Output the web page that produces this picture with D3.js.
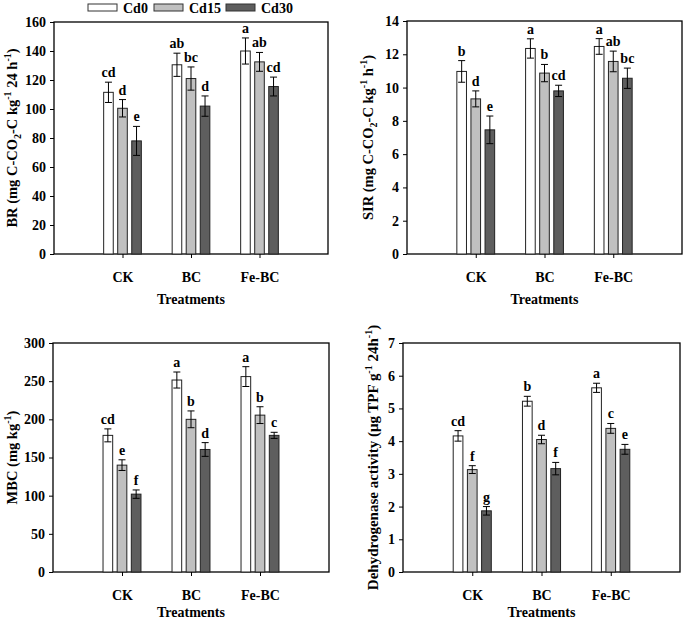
<!DOCTYPE html>
<html>
<head>
<meta charset="utf-8">
<script src="https://cdn.jsdelivr.net/npm/d3@7"></script>
<style>
  body { margin: 0; background: #fff; }
  svg { display: block; font-family: "Liberation Serif", "Times New Roman", serif; font-weight: bold; }
</style>
</head>
<body>
<svg id="chart" width="685" height="621"></svg>
<script>
// ===============================
// Data (rows = treatments, cols = Cd0, Cd15, Cd30)
// ===============================
const treatments = ["CK", "BC", "Fe-BC"];
const levels = ["Cd0", "Cd15", "Cd30"];
const levelColors = ["#ffffff", "#c0c0c0", "#5e5e5e"];

const brMean = [[111.5, 100.5, 78], [130.5, 121, 102], [140, 132.5, 115.5]];
const brErr = [[7, 6, 10], [8, 8, 7], [9, 6.5, 6.5]];
const brLetters = [["cd", "d", "e"], ["ab", "bc", "d"], ["a", "ab", "cd"]];

const sirMean = [[10.97, 9.32, 7.46], [12.35, 10.87, 9.8], [12.47, 11.57, 10.56]];
const sirErr = [[0.65, 0.48, 0.83], [0.58, 0.52, 0.34], [0.47, 0.62, 0.61]];
const sirLetters = [["b", "d", "e"], ["a", "b", "cd"], ["a", "ab", "bc"]];

const mbcMean = [[179, 140, 102], [251.5, 200, 160.5], [256, 205.5, 179]];
const mbcErr = [[8.5, 7, 5.5], [10.5, 11, 9], [13, 11, 4]];
const mbcLetters = [["cd", "e", "f"], ["a", "b", "d"], ["a", "b", "c"]];

const dhaMean = [[4.16, 3.13, 1.87], [5.22, 4.05, 3.16], [5.63, 4.39, 3.75]];
const dhaErr = [[0.16, 0.12, 0.13], [0.15, 0.13, 0.19], [0.14, 0.15, 0.15]];
const dhaLetters = [["cd", "f", "g"], ["b", "d", "f"], ["a", "c", "e"]];

const svg = d3.select("#chart");
const serif = "'Liberation Serif', 'Times New Roman', serif";

// ===============================
// Legend
// ===============================
const legend = svg.append("g");
const legendX = [88, 154, 226];
levels.forEach((lv, i) => {
    legend.append("rect")
        .attr("x", legendX[i]).attr("y", 4)
        .attr("width", 29).attr("height", 7)
        .attr("fill", levelColors[i])
        .attr("stroke", "#333").attr("stroke-width", 1);
    legend.append("text")
        .attr("x", legendX[i] + 35).attr("y", 13)
        .attr("font-size", 14)
        .text(lv);
});

// ===============================
// Panel drawing
// ===============================
function drawPanel(p) {
    const g = svg.append("g");

    const x = d3.scaleLinear().domain([0, 4]).range([p.left, p.right]);
    const y = d3.scaleLinear().domain([0, p.ymax]).range([p.bottom, p.top]);
    const unit = x(1) - x(0);
    const barW = unit * 0.14;
    const offset = unit * 0.205;

    // frame
    g.append("rect")
        .attr("x", p.left).attr("y", p.top)
        .attr("width", p.right - p.left).attr("height", p.bottom - p.top)
        .attr("fill", "none").attr("stroke", "#000").attr("stroke-width", 1.3);

    // bars + error bars + letters
    treatments.forEach((t, ti) => {
        levels.forEach((lv, li) => {
            const cx = x(ti + 1) + (li - 1) * offset;
            const v = p.mean[ti][li], e = p.err[ti][li];
            g.append("rect")
                .attr("x", cx - barW / 2).attr("y", y(v))
                .attr("width", barW).attr("height", y(0) - y(v))
                .attr("fill", levelColors[li])
                .attr("stroke", "#222").attr("stroke-width", 1);
            g.append("line")
                .attr("x1", cx).attr("x2", cx)
                .attr("y1", y(v - e)).attr("y2", y(v + e))
                .attr("stroke", "#000").attr("stroke-width", 1);
            [v - e, v + e].forEach(c => {
                g.append("line")
                    .attr("x1", cx - 3.5).attr("x2", cx + 3.5)
                    .attr("y1", y(c)).attr("y2", y(c))
                    .attr("stroke", "#000").attr("stroke-width", 1);
            });
            g.append("text")
                .attr("x", cx).attr("y", y(v + e) - 5)
                .attr("text-anchor", "middle")
                .attr("font-size", 14)
                .text(p.letters[ti][li]);
        });
    });

    // y axis
    const yAxis = g.append("g")
        .attr("transform", `translate(${p.left},0)`)
        .call(d3.axisLeft(y).ticks(p.ymax / p.step).tickSize(4).tickSizeOuter(0).tickPadding(4));
    yAxis.attr("font-family", serif).attr("font-size", 14);
    yAxis.select(".domain").remove();
    yAxis.selectAll("text").attr("fill", "#000");

    // x axis (ticks at categories only)
    const xAxis = g.append("g")
        .attr("transform", `translate(0,${p.bottom})`)
        .call(d3.axisBottom(x).tickValues([1, 2, 3]).tickFormat(d => treatments[d - 1])
            .tickSize(4).tickSizeOuter(0).tickPadding(14));
    xAxis.attr("font-family", serif).attr("font-size", 14);
    xAxis.select(".domain").remove();
    xAxis.selectAll("text").attr("fill", "#000");

    // x title
    g.append("text")
        .attr("x", (p.left + p.right) / 2).attr("y", p.bottom + p.xtitleGap)
        .attr("text-anchor", "middle")
        .attr("font-size", 14)
        .text("Treatments");

    // y title with sub/superscripts
    const yt = g.append("text")
        .attr("transform", `translate(${p.ylabelX},${(p.top + p.bottom) / 2}) rotate(-90)`)
        .attr("text-anchor", "middle")
        .attr("font-size", p.ylabelSize);
    p.ylabel.forEach(part => {
        const ts = yt.append("tspan").text(part.t);
        if (part.s === "sup") ts.attr("font-size", 10).attr("dy", -6);
        if (part.s === "sub") ts.attr("font-size", 10).attr("dy", 4);
        if (part.s === "back") ts.attr("dy", part.dy);
    });
}

drawPanel({
    left: 54, top: 22, right: 328, bottom: 254, ymax: 160, step: 20,
    mean: brMean, err: brErr, letters: brLetters, ylabelX: 17, ylabelSize: 14.5, xtitleGap: 50,
    ylabel: [
        { t: "BR (mg C-CO" }, { t: "2", s: "sub" }, { t: "-C kg", s: "back", dy: -4 },
        { t: "-1", s: "sup" }, { t: " 24 h", s: "back", dy: 6 }, { t: "-1", s: "sup" }, { t: ")", s: "back", dy: 6 }
    ]
});

drawPanel({
    left: 407, top: 21, right: 682, bottom: 254, ymax: 14, step: 2,
    mean: sirMean, err: sirErr, letters: sirLetters, ylabelX: 373, ylabelSize: 14.5, xtitleGap: 50,
    ylabel: [
        { t: "SIR (mg C-CO" }, { t: "2", s: "sub" }, { t: "-C kg", s: "back", dy: -4 },
        { t: "-1", s: "sup" }, { t: " h", s: "back", dy: 6 }, { t: "-1", s: "sup" }, { t: ")", s: "back", dy: 6 }
    ]
});

drawPanel({
    left: 53, top: 343, right: 329, bottom: 572, ymax: 300, step: 50,
    mean: mbcMean, err: mbcErr, letters: mbcLetters, ylabelX: 17, ylabelSize: 14.5, xtitleGap: 45,
    ylabel: [
        { t: "MBC (mg kg" }, { t: "-1", s: "sup" }, { t: ")", s: "back", dy: 6 }
    ]
});

drawPanel({
    left: 403, top: 343, right: 680, bottom: 572, ymax: 7, step: 1,
    mean: dhaMean, err: dhaErr, letters: dhaLetters, ylabelX: 378, ylabelSize: 15, xtitleGap: 45,
    ylabel: [
        { t: "Dehydrogenase activity (\u03bcg TPF g" }, { t: "-1", s: "sup" }, { t: " 24h", s: "back", dy: 6 },
        { t: "-1", s: "sup" }, { t: ")", s: "back", dy: 6 }
    ]
});
</script>
</body>
</html>
